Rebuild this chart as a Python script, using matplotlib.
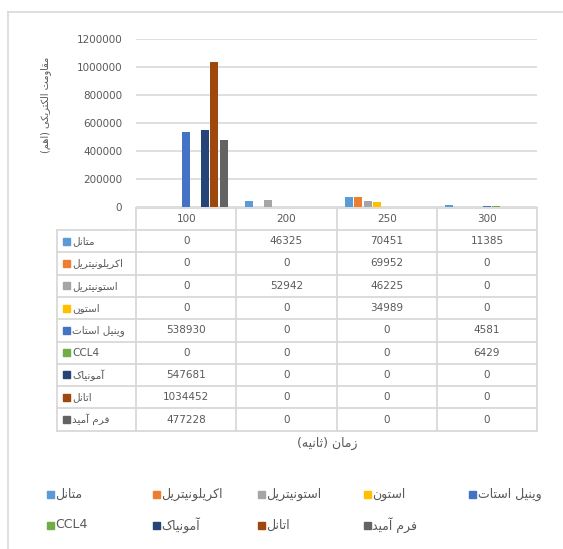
import matplotlib
matplotlib.use("Agg")
import matplotlib.pyplot as plt
from matplotlib.lines import Line2D
from matplotlib.patches import Rectangle
import numpy as np

# Data (resistance, ohm)
times = ["100", "200", "250", "300"]
series_names = ["متانل", "اکریلونیتریل", "استونیتریل", "استون", "وینیل استات",
                "CCL4", "آمونیاک", "اتانل", "فرم آمید"]
methanol = [0, 46325, 70451, 11385]
acrylonitrile = [0, 0, 69952, 0]
acetonitrile = [0, 52942, 46225, 0]
acetone = [0, 0, 34989, 0]
vinyl_acetate = [538930, 0, 0, 4581]
ccl4 = [0, 0, 0, 6429]
ammonia = [547681, 0, 0, 0]
ethanol = [1034452, 0, 0, 0]
formamide = [477228, 0, 0, 0]
values = [methanol, acrylonitrile, acetonitrile, acetone, vinyl_acetate,
          ccl4, ammonia, ethanol, formamide]
yticks = [0, 200000, 400000, 600000, 800000, 1000000, 1200000]

colors = ["#5B9BD5", "#ED7D31", "#A5A5A5", "#FFC000", "#4472C4",
          "#70AD47", "#264478", "#9E480E", "#636363"]
TXT = "#595959"
GRID = "#D9D9D9"

# minimal Persian shaping (matplotlib has no bidi / joining support)
FORMS = {
    'ا': (0xFE8D, 0xFE8E, None, None), 'آ': (0xFE81, 0xFE82, None, None),
    'ت': (0xFE95, 0xFE96, 0xFE97, 0xFE98), 'ث': (0xFE99, 0xFE9A, 0xFE9B, 0xFE9C),
    'د': (0xFEA9, 0xFEAA, None, None), 'ر': (0xFEAD, 0xFEAE, None, None),
    'ز': (0xFEAF, 0xFEB0, None, None), 'س': (0xFEB1, 0xFEB2, 0xFEB3, 0xFEB4),
    'ف': (0xFED1, 0xFED2, 0xFED3, 0xFED4), 'ق': (0xFED5, 0xFED6, 0xFED7, 0xFED8),
    'ل': (0xFEDD, 0xFEDE, 0xFEDF, 0xFEE0), 'م': (0xFEE1, 0xFEE2, 0xFEE3, 0xFEE4),
    'ن': (0xFEE5, 0xFEE6, 0xFEE7, 0xFEE8), 'ه': (0xFEE9, 0xFEEA, 0xFEEB, 0xFEEC),
    'و': (0xFEED, 0xFEEE, None, None), 'ک': (0xFB8E, 0xFB8F, 0xFB90, 0xFB91),
    'ی': (0xFBFC, 0xFBFD, 0xFBFE, 0xFBFF),
}


def fa(s):
    if not any(ch in FORMS for ch in s):
        return s
    out = []
    for i, ch in enumerate(s):
        f = FORMS.get(ch)
        if f is None:
            out.append(ch)
            continue
        prev = FORMS.get(s[i - 1]) if i > 0 else None
        nxt = FORMS.get(s[i + 1]) if i + 1 < len(s) else None
        jp = prev is not None and prev[2] is not None
        jn = f[2] is not None and nxt is not None
        if jp and jn:
            c = f[3]
        elif jp:
            c = f[1]
        elif jn:
            c = f[2]
        else:
            c = f[0]
        out.append(chr(c))
    vis = ''.join(reversed(out))
    return vis.translate(str.maketrans('()', ')('))


W, H = 563, 549
plt.rcParams['font.family'] = ['DejaVu Sans']
fig = plt.figure(figsize=(W / 100, H / 100), dpi=100)


def fx(x):
    return x / W


def fy(y):
    return 1 - y / H


def hline(x0, x1, y, **kw):
    fig.add_artist(Line2D([fx(x0), fx(x1)], [fy(y), fy(y)], transform=fig.transFigure, **kw))


def vline(x, y0, y1, **kw):
    fig.add_artist(Line2D([fx(x), fx(x)], [fy(y0), fy(y1)], transform=fig.transFigure, **kw))


# outer chart border
hline(8, 562, 12, color=GRID, lw=1.2)
vline(8, 12, 549, color=GRID, lw=1.2)

# plot area
PL, PR, PT, PB = 136, 537, 39, 207
ax = fig.add_axes([fx(PL), fy(PB), fx(PR) - fx(PL), fy(PT) - fy(PB)])
x = np.arange(len(times))
n = len(values)
step = 0.094
for i, vals in enumerate(values):
    ax.bar(x + (i - (n - 1) / 2) * step, vals, width=step * 0.85,
           color=colors[i], zorder=3)
ax.set_xlim(-0.5, len(times) - 0.5)
ax.set_ylim(0, 1200000)
ax.set_yticks(yticks)
ax.set_yticklabels([str(v) for v in yticks], fontsize=7.5, color=TXT)
ax.tick_params(axis='y', length=0, pad=10)
ax.set_xticks([])
ax.grid(axis='y', color=GRID, lw=1.2, zorder=0)
for s in ax.spines.values():
    s.set_visible(False)

fig.text(fx(46), fy(105), fa("مقاومت الکتریکی (اهم)"), rotation=90,
         ha='center', va='center', fontsize=7, color=TXT)

# data table
cols = [57, 136, 236.25, 336.5, 436.75, 537]
rtop, hrow = 208, 22.3
rows_y = [rtop, 230] + [230 + hrow * (k + 1) for k in range(n)]
tc = dict(color=GRID, lw=1.3)
hline(136, 537, rows_y[0], **tc)
for yy in rows_y[1:]:
    hline(57, 537, yy, **tc)
vline(57, rows_y[1], rows_y[-1], **tc)
for xx in cols[1:]:
    vline(xx, rows_y[0], rows_y[-1], **tc)

for j, t in enumerate(times):
    fig.text(fx((cols[j + 1] + cols[j + 2]) / 2), fy((rows_y[0] + rows_y[1]) / 2), t,
             ha='center', va='center', fontsize=7.5, color=TXT)
for i, vals in enumerate(values):
    yc = (rows_y[i + 1] + rows_y[i + 2]) / 2
    fig.add_artist(Rectangle((fx(63), fy(yc + 3.5)), fx(7), 7 / H,
                             transform=fig.transFigure, color=colors[i]))
    fig.text(fx(72), fy(yc), fa(series_names[i]), ha='left', va='center',
             fontsize=7.5, color=TXT)
    for j, v in enumerate(vals):
        fig.text(fx((cols[j + 1] + cols[j + 2]) / 2), fy(yc), str(v),
                 ha='center', va='center', fontsize=7.5, color=TXT)

fig.text(fx(327), fy(443), fa("زمان (ثانیه)"), ha='center', va='center',
         fontsize=9, color=TXT)

# legend
leg_x = [47, 153, 258, 364, 469]
leg_y = [494, 525]
for i, name in enumerate(series_names):
    r, c = divmod(i, 5)
    xx, yy = leg_x[c], leg_y[r]
    fig.add_artist(Rectangle((fx(xx), fy(yy + 3.5)), fx(7), 7 / H,
                             transform=fig.transFigure, color=colors[i]))
    fig.text(fx(xx + 8.5), fy(yy), fa(name), ha='left', va='center',
             fontsize=9, color=TXT)

fig.savefig("out.png", dpi=100, facecolor='white')
